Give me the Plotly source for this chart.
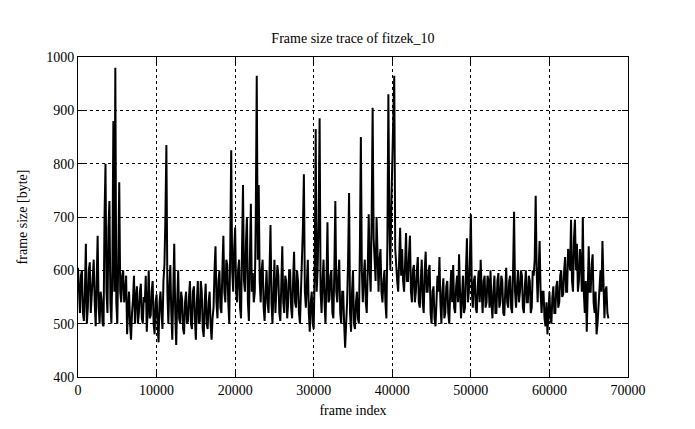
import plotly.graph_objects as go

# frame index sampling: start and step (frames)
frame_start = 0
frame_step = 125

size_0k = [605, 540, 520, 590, 600, 520, 505, 560, 650, 500, 530, 600, 615, 520, 555, 610, 620, 540, 495, 580,
           665, 530, 500, 560, 545, 500, 495, 700, 800, 560, 520, 680, 730, 540, 500, 600, 880, 560, 980, 540,
           500, 620, 765, 560, 540, 590, 600, 540, 555, 590, 480, 530, 560, 500, 470, 520, 545, 590, 500, 550,
           570, 500, 520, 560, 575, 510, 500, 550, 540, 590, 485, 530, 600, 510, 515, 560, 580, 500, 480, 540]
size_10k = [555, 500, 465, 540, 560, 520, 490, 580, 610, 700, 835, 560, 500, 570, 610, 520, 470, 560, 650, 520,
            460, 540, 600, 510, 500, 560, 545, 490, 480, 540, 560, 500, 505, 550, 580, 500, 490, 560, 570, 510,
            470, 540, 580, 500, 505, 580, 560, 490, 475, 540, 575, 500, 490, 540, 560, 500, 470, 510, 530, 600,
            645, 540, 510, 580, 600, 530, 520, 600, 665, 560, 540, 620, 610, 540, 500, 640, 825, 600, 560, 640]
size_20k = [680, 560, 540, 600, 620, 530, 510, 640, 760, 580, 560, 650, 700, 540, 505, 620, 725, 560, 595, 540,
            560, 700, 965, 620, 760, 580, 540, 600, 620, 530, 505, 560, 600, 540, 520, 600, 685, 540, 500, 560,
            620, 520, 560, 610, 590, 520, 505, 560, 645, 540, 520, 590, 580, 510, 540, 600, 600, 530, 510, 580,
            635, 540, 530, 600, 580, 520, 500, 560, 610, 680, 780, 560, 530, 580, 620, 520, 485, 540, 560, 500]
size_30k = [490, 600, 865, 560, 600, 700, 885, 560, 520, 580, 620, 540, 500, 580, 690, 540, 545, 590, 600, 520,
            510, 600, 730, 560, 540, 590, 620, 520, 500, 560, 560, 500, 455, 500, 540, 620, 745, 520, 485, 560,
            600, 500, 490, 540, 560, 510, 500, 640, 850, 600, 540, 590, 620, 540, 520, 600, 705, 600, 560, 700,
            905, 660, 620, 580, 700, 600, 560, 620, 640, 560, 540, 580, 600, 540, 510, 650, 930, 700, 600, 720]
size_40k = [820, 900, 965, 640, 600, 580, 560, 620, 680, 590, 640, 580, 560, 610, 670, 580, 580, 630, 665, 560,
            540, 600, 610, 540, 560, 600, 625, 540, 530, 580, 620, 540, 520, 600, 635, 560, 560, 600, 610, 520,
            500, 560, 570, 510, 495, 540, 590, 560, 625, 540, 500, 560, 585, 510, 520, 570, 580, 520, 500, 560,
            600, 540, 610, 530, 520, 570, 590, 540, 630, 560, 510, 550, 590, 520, 530, 600, 660, 540, 560, 620]
size_50k = [705, 560, 530, 580, 590, 530, 520, 570, 600, 540, 620, 560, 520, 580, 590, 530, 540, 590, 580, 530,
            600, 540, 510, 560, 590, 520, 520, 580, 595, 530, 540, 590, 580, 520, 515, 560, 605, 540, 530, 580,
            590, 530, 520, 600, 710, 560, 530, 570, 600, 540, 560, 600, 590, 530, 520, 570, 600, 540, 540, 590,
            580, 520, 530, 600, 590, 620, 740, 600, 540, 600, 655, 560, 520, 560, 560, 510, 495, 540, 480, 520]
size_60k = [560, 510, 500, 550, 570, 520, 520, 570, 580, 530, 540, 590, 600, 550, 555, 600, 625, 560, 560, 640,
            630, 600, 695, 580, 560, 660, 695, 600, 650, 560, 580, 640, 620, 560, 700, 560, 520, 580, 485, 560,
            645, 560, 560, 610, 630, 540, 520, 560, 480, 500, 540, 580, 600, 560, 655, 580, 510, 560, 570, 520, 510]

frame_size = size_0k + size_10k + size_20k + size_30k + size_40k + size_50k + size_60k
frame_index = [frame_start + i * frame_step for i in range(len(frame_size))]

x_ticks = [0, 10000, 20000, 30000, 40000, 50000, 60000, 70000]
y_ticks = [400, 500, 600, 700, 800, 900, 1000]

font = "Liberation Serif"

fig = go.Figure()
fig.add_trace(go.Scatter(x=frame_index, y=frame_size, mode="lines",
                         line=dict(color="black", width=2), showlegend=False))

axis_common = dict(showline=True, linecolor="black", linewidth=1, mirror="allticks",
                   ticks="inside", ticklen=6, tickcolor="black",
                   showgrid=True, gridcolor="black", gridwidth=1, griddash="dot",
                   zeroline=False, tickfont=dict(family=font, size=14, color="black"))

fig.update_layout(
    width=695, height=429,
    margin=dict(l=70, r=75, t=49, b=60),
    paper_bgcolor="white", plot_bgcolor="white",
    title=dict(text="Frame size trace of fitzek_10", x=(70 + 275) / 695, xanchor="center",
               y=1 - 30 / 429, yanchor="middle",
               font=dict(family=font, size=14, color="black")),
    xaxis=dict(range=[0, 70000], tickvals=x_ticks, ticktext=[str(v) for v in x_ticks],
               title=dict(text="frame index", font=dict(family=font, size=14, color="black"),
                          standoff=8),
               **axis_common),
    yaxis=dict(range=[400, 1000], tickvals=y_ticks, ticktext=[str(v) for v in y_ticks],
               title=dict(text="frame size [byte]", font=dict(family=font, size=14, color="black"),
                          standoff=15),
               **axis_common),
)

fig.write_html("out.html")
